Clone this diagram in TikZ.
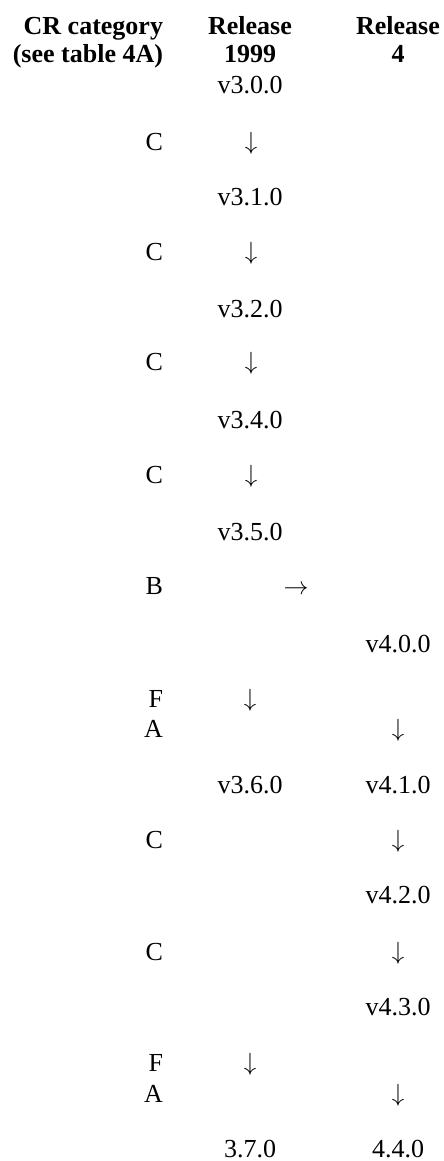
\documentclass[tikz,border=0pt]{standalone}
\usepackage{fontspec}
\setmainfont{Liberation Serif}
\begin{document}
\begin{tikzpicture}[x=1pt,y=-1pt,
  every node/.style={inner sep=0pt,outer sep=0pt,font=\fontsize{26}{30}\selectfont},
  cat/.style={anchor=base east},
  cell/.style={anchor=base},
  head/.style={font=\fontsize{26}{30}\selectfont\bfseries},
  arr/.style={anchor=base,font=\fontsize{24}{28}\selectfont}]
\useasboundingbox (0,0) rectangle (444,1161);
% headers
\node[cat,head] (hc1) at (163,35) {CR category};
\node[cat,head] (hc2) at (163,63) {(see table 4A)};
\node[cell,head] (hr1a) at (250,35) {Release};
\node[cell,head] (hr1b) at (250,63) {1999};
\node[cell,head] (hr2a) at (398,35) {Release};
\node[cell,head] (hr2b) at (398,63) {4};
% rows
\node[cell] (v300) at (250,94) {v3.0.0};
\node[cat] (c1) at (163,151) {C};
\node[arr] (a1) at (251,150) {$\downarrow$};
\node[cell] (v310) at (250,205) {v3.1.0};
\node[cat] (c2) at (163,260) {C};
\node[arr] (a2) at (251,259) {$\downarrow$};
\node[cell] (v320) at (250,317) {v3.2.0};
\node[cat] (c3) at (163,370) {C};
\node[arr] (a3) at (251,369) {$\downarrow$};
\node[cell] (v340) at (250,428) {v3.4.0};
\node[cat] (c4) at (163,483) {C};
\node[arr] (a4) at (251,482) {$\downarrow$};
\node[cell] (v350) at (250,540) {v3.5.0};
\node[cat] (b1) at (163,594) {B};
\node[arr] (ar) at (296,594) {$\rightarrow$};
\node[cell] (v400) at (398,652) {v4.0.0};
\node[cat] (f1) at (163,707) {F};
\node[arr] (a5) at (250,706) {$\downarrow$};
\node[cat] (aa1) at (163,737) {A};
\node[arr] (b5) at (398,736) {$\downarrow$};
\node[cell] (v360) at (250,793) {v3.6.0};
\node[cell] (v410) at (398,793) {v4.1.0};
\node[cat] (c5) at (163,848) {C};
\node[arr] (b6) at (398,847) {$\downarrow$};
\node[cell] (v420) at (398,903) {v4.2.0};
\node[cat] (c6) at (163,960) {C};
\node[arr] (b7) at (398,959) {$\downarrow$};
\node[cell] (v430) at (398,1015) {v4.3.0};
\node[cat] (f2) at (163,1071) {F};
\node[arr] (a8) at (250,1070) {$\downarrow$};
\node[cat] (aa2) at (163,1102) {A};
\node[arr] (b8) at (398,1101) {$\downarrow$};
\node[cell] (v370) at (250,1157) {3.7.0};
\node[cell] (v440) at (398,1157) {4.4.0};
\end{tikzpicture}
\end{document}
